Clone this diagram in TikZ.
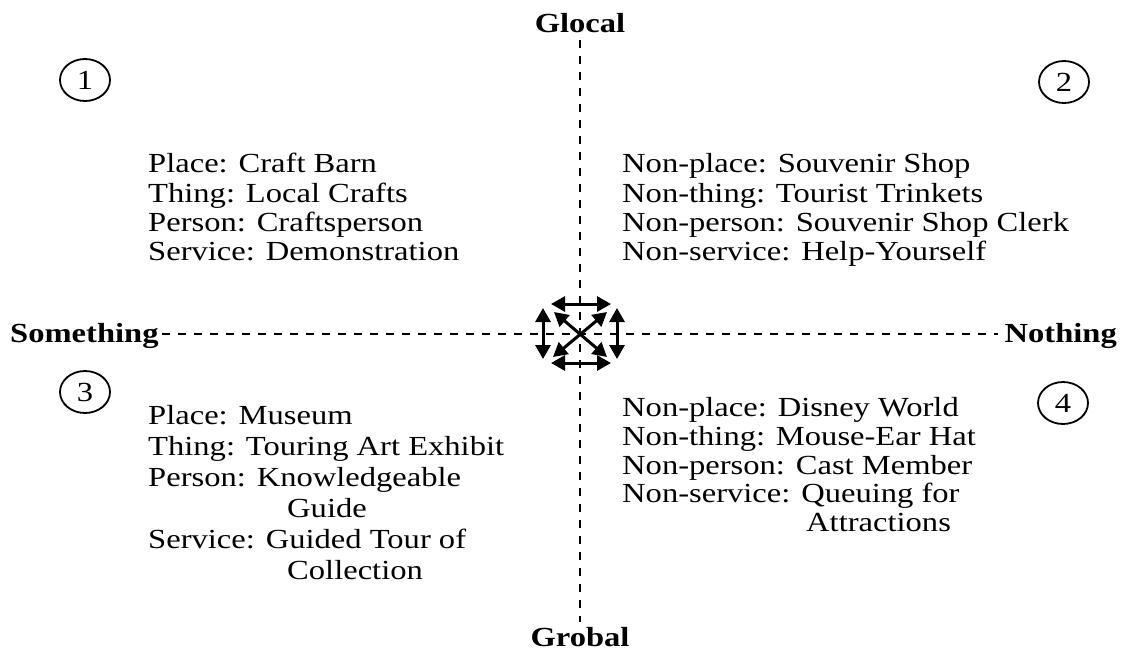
\documentclass[tikz,border=0pt]{standalone}
\usepackage{fontspec}
\setmainfont{Liberation Serif}[FakeStretch=1.18]
\usetikzlibrary{arrows.meta,shapes.geometric}
\begin{document}
\begin{tikzpicture}[x=1pt,y=-1pt,
  txt/.style={anchor=base west,inner sep=0pt,font=\fontsize{27.6}{30}\selectfont},
  axislabel/.style={inner sep=0pt,font=\fontsize{27.6}{30}\selectfont\bfseries},
  numcircle/.style={ellipse,draw,line width=1.8pt,minimum width=50pt,minimum height=42pt,inner sep=0pt,font=\fontsize{27.6}{30}\selectfont},
  axisline/.style={line width=2.4pt,dash pattern=on 8pt off 8pt},
  dbl/.style={line width=3pt,{Triangle[length=14pt,width=15pt]}-{Triangle[length=14pt,width=15pt]}}]
\useasboundingbox (0,0) rectangle (1123,654);
% axis labels
\node[axislabel,anchor=base] (glocal) at (580,32) {Glocal};
\node[axislabel,anchor=base] (grobal) at (580,646) {Grobal};
\node[axislabel,anchor=base west] (something) at (10,342) {Something};
\node[axislabel,anchor=base east] (nothing) at (1117,342) {Nothing};
% axes
\coordinate (vtop) at (580,40);
\coordinate (vbot) at (580,622);
\coordinate (hleft) at (162,334);
\coordinate (hright) at (998,334);
\draw[axisline] (vtop) -- (vbot);
\draw[axisline] (hleft) -- (hright);
% circled numbers
\node[numcircle] (n1) at (85,80) {1};
\node[numcircle] (n2) at (1064,82) {2};
\node[numcircle] (n3) at (85,392) {3};
\node[numcircle] (n4) at (1063,403) {4};
% centre arrows
\coordinate (tl) at (551,304); \coordinate (tr) at (611,304);
\coordinate (bl) at (551,363); \coordinate (br) at (611,363);
\coordinate (lt) at (543,308); \coordinate (lb) at (543,359);
\coordinate (rt) at (617,308); \coordinate (rb) at (617,359);
\coordinate (d1a) at (554,312); \coordinate (d1b) at (607,357);
\coordinate (d2a) at (607,312); \coordinate (d2b) at (553,357);
\draw[dbl] (tl) -- (tr);
\draw[dbl] (bl) -- (br);
\draw[dbl] (lt) -- (lb);
\draw[dbl] (rt) -- (rb);
\draw[dbl] (d1a) -- (d1b);
\draw[dbl] (d2a) -- (d2b);
% quadrant 1
\node[txt] (q1a) at (148,172) {Place: Craft Barn};
\node[txt] (q1b) at (148,202) {Thing: Local Crafts};
\node[txt] (q1c) at (148,231) {Person: Craftsperson};
\node[txt] (q1d) at (148,260) {Service: Demonstration};
% quadrant 2
\node[txt] (q2a) at (622,172) {Non-place: Souvenir Shop};
\node[txt] (q2b) at (622,202) {Non-thing: Tourist Trinkets};
\node[txt] (q2c) at (622,231) {Non-person: Souvenir Shop Clerk};
\node[txt] (q2d) at (622,260) {Non-service: Help-Yourself};
% quadrant 3
\node[txt] (q3a) at (148,424) {Place: Museum};
\node[txt] (q3b) at (148,455) {Thing: Touring Art Exhibit};
\node[txt] (q3c) at (148,486) {Person: Knowledgeable};
\node[txt] (q3d) at (287,517) {Guide};
\node[txt] (q3e) at (148,548) {Service: Guided Tour of};
\node[txt] (q3f) at (287,579) {Collection};
% quadrant 4
\node[txt] (q4a) at (622,416) {Non-place: Disney World};
\node[txt] (q4b) at (622,445) {Non-thing: Mouse-Ear Hat};
\node[txt] (q4c) at (622,474) {Non-person: Cast Member};
\node[txt] (q4d) at (622,502) {Non-service: Queuing for};
\node[txt] (q4e) at (806,531) {Attractions};
\end{tikzpicture}
\end{document}
